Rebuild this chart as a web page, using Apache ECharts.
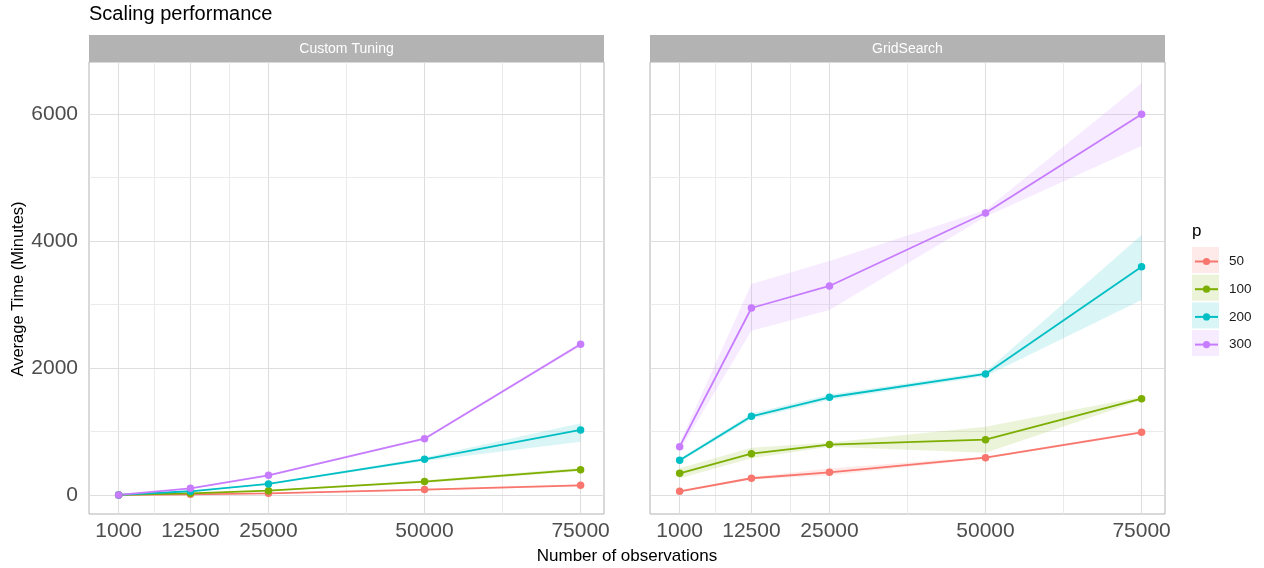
<!DOCTYPE html>
<html>
<head>
<meta charset="utf-8">
<title>Scaling performance</title>
<script src="https://cdn.jsdelivr.net/npm/echarts@6/dist/echarts.min.js"></script>
<style>
  html, body { margin: 0; padding: 0; background: #fff; }
  #chart { width: 1264px; height: 568px; }
</style>
</head>
<body>
<div id="chart"></div>
<script>
// Observation counts on the x axis
const observations = [1000, 12500, 25000, 50000, 75000];
const xMinorBreaks = [6750, 18750, 37500, 62500];
const yTicks = [0, 2000, 4000, 6000];
const yMinorBreaks = [1000, 3000, 5000];

const panels = ['Custom Tuning', 'GridSearch'];
const pLevels = ['50', '100', '200', '300'];
const pColors = ['#F8766D', '#7CAE00', '#00BFC4', '#C77CFF'];

// Custom Tuning: average time (minutes) with lower / upper band
const customMean50  = [0, 10, 26, 84, 152];
const customLow50   = [0, 5, 18, 70, 135];
const customHigh50  = [0, 15, 34, 98, 170];
const customMean100 = [0, 26, 68, 210, 399];
const customLow100  = [0, 20, 58, 190, 372];
const customHigh100 = [0, 32, 78, 230, 428];
const customMean200 = [0, 58, 173, 562, 1024];
const customLow200  = [0, 50, 160, 535, 840];
const customHigh200 = [0, 66, 186, 590, 1130];
const customMean300 = [0, 105, 310, 887, 2373];
const customLow300  = [0, 95, 295, 868, 2345];
const customHigh300 = [0, 115, 325, 906, 2400];

// GridSearch: average time (minutes) with lower / upper band
const gridMean50  = [58, 263, 357, 588, 987];
const gridLow50   = [40, 245, 310, 570, 965];
const gridHigh50  = [76, 281, 415, 606, 1009];
const gridMean100 = [341, 651, 793, 871, 1517];
const gridLow100  = [263, 578, 760, 666, 1490];
const gridHigh100 = [420, 745, 826, 1076, 1545];
const gridMean200 = [546, 1239, 1539, 1906, 3596];
const gridLow200  = [520, 1195, 1495, 1870, 3071];
const gridHigh200 = [572, 1283, 1583, 1942, 4095];
const gridMean300 = [761, 2945, 3292, 4441, 5996];
const gridLow300  = [700, 2588, 2914, 4384, 5497];
const gridHigh300 = [820, 3323, 3685, 4489, 6484];

const panelData = [
  {
    mean: [customMean50, customMean100, customMean200, customMean300],
    low:  [customLow50, customLow100, customLow200, customLow300],
    high: [customHigh50, customHigh100, customHigh200, customHigh300]
  },
  {
    mean: [gridMean50, gridMean100, gridMean200, gridMean300],
    low:  [gridLow50, gridLow100, gridLow200, gridLow300],
    high: [gridHigh50, gridHigh100, gridHigh200, gridHigh300]
  }
];

const FONT = 'Liberation Sans, Arial, sans-serif';
const BAND_ALPHA = 0.15;

function hexToRgba(hex, a) {
  const n = parseInt(hex.slice(1), 16);
  return 'rgba(' + ((n >> 16) & 255) + ',' + ((n >> 8) & 255) + ',' + (n & 255) + ',' + a + ')';
}

const gridBoxes = [
  { left: 89, top: 62, width: 515, height: 452 },
  { left: 650, top: 62, width: 515, height: 452 }
];

const series = [];

panels.forEach(function (panelName, pi) {
  // panel grid lines, placed through the axes, kept underneath the data
  const majorStyle = { color: '#dedede', width: 1.1, type: 'solid' };
  const minorStyle = { color: '#e9e9e9', width: 0.9, type: 'solid' };
  const lines = [];
  observations.forEach(v => lines.push({ xAxis: v, lineStyle: majorStyle }));
  xMinorBreaks.forEach(v => lines.push({ xAxis: v, lineStyle: minorStyle }));
  yTicks.forEach(v => lines.push({ yAxis: v, lineStyle: majorStyle }));
  yMinorBreaks.forEach(v => lines.push({ yAxis: v, lineStyle: minorStyle }));
  series.push({
    type: 'line',
    name: 'grid-' + pi,
    xAxisIndex: pi,
    yAxisIndex: pi,
    data: [[observations[0], 0]],
    showSymbol: false,
    lineStyle: { opacity: 0 },
    silent: true,
    z: 1,
    animation: false,
    markLine: {
      z: 1,
      silent: true,
      symbol: ['none', 'none'],
      label: { show: false },
      animation: false,
      data: lines
    }
  });

  const d = panelData[pi];
  pLevels.forEach(function (p, k) {
    const low = d.low[k];
    const high = d.high[k];
    // shaded band between low and high
    series.push({
      type: 'custom',
      name: 'band-' + pi + '-' + p,
      xAxisIndex: pi,
      yAxisIndex: pi,
      silent: true,
      z: 2,
      animation: false,
      data: [[observations[0], low[0]]],
      renderItem: function (params, api) {
        const pts = [];
        for (let i = 0; i < observations.length; i++) pts.push(api.coord([observations[i], high[i]]));
        for (let i = observations.length - 1; i >= 0; i--) pts.push(api.coord([observations[i], low[i]]));
        return {
          type: 'polygon',
          shape: { points: pts },
          style: { fill: hexToRgba(pColors[k], BAND_ALPHA), stroke: null }
        };
      }
    });
  });

  pLevels.forEach(function (p, k) {
    series.push({
      type: 'line',
      name: p,
      xAxisIndex: pi,
      yAxisIndex: pi,
      z: 3,
      animation: false,
      symbol: 'circle',
      symbolSize: 7.5,
      showAllSymbol: true,
      color: pColors[k],
      lineStyle: { color: pColors[k], width: 1.8 },
      itemStyle: { color: pColors[k], borderWidth: 0 },
      emphasis: { disabled: true },
      data: observations.map((x, i) => [x, d.mean[k][i]])
    });
  });
});

const xAxes = gridBoxes.map((g, i) => ({
  type: 'value',
  gridIndex: i,
  min: -3750,
  max: 78750,
  axisLine: { show: false },
  splitLine: { show: false },
  axisTick: { show: true, customValues: observations, length: 4, lineStyle: { color: '#b3b3b3', width: 1 } },
  axisLabel: {
    show: true, customValues: observations, margin: 7,
    color: '#4d4d4d', fontSize: 21, fontFamily: FONT,
    formatter: v => String(v)
  }
}));

const yAxes = gridBoxes.map((g, i) => ({
  type: 'value',
  gridIndex: i,
  min: -300,
  max: 6820,
  axisLine: { show: false },
  splitLine: { show: false },
  axisTick: i === 0
    ? { show: true, customValues: yTicks, length: 4, lineStyle: { color: '#b3b3b3', width: 1 } }
    : { show: false },
  axisLabel: i === 0
    ? { show: true, customValues: yTicks, margin: 11, padding: [3, 0, 0, 0], color: '#4d4d4d', fontSize: 21, fontFamily: FONT, formatter: v => String(v) }
    : { show: false }
}));

// strip headers, legend key backgrounds and axis titles
const graphics = [];
panels.forEach(function (name, i) {
  const g = gridBoxes[i];
  graphics.push({
    type: 'rect', left: g.left, top: 35, silent: true,
    shape: { width: g.width, height: 27 },
    style: { fill: '#b3b3b3' }
  });
  graphics.push({
    type: 'text', x: g.left + g.width / 2, y: 49, silent: true,
    style: { text: name, fill: '#ffffff', font: '14px ' + FONT, textAlign: 'center', textVerticalAlign: 'middle' }
  });
});
pLevels.forEach(function (p, k) {
  graphics.push({
    type: 'rect', left: 1192, top: 247 + k * 27.7, silent: true,
    shape: { width: 27, height: 26 },
    style: { fill: hexToRgba(pColors[k], BAND_ALPHA) }
  });
});
graphics.push({
  type: 'text', x: 1192, y: 231, silent: true,
  style: { text: 'p', fill: '#000000', font: '17px ' + FONT, textAlign: 'left', textVerticalAlign: 'middle' }
});
graphics.push({
  type: 'text', x: 18.5, y: 289, rotation: Math.PI / 2, silent: true,
  style: { text: 'Average Time (Minutes)', fill: '#000000', font: '16.5px ' + FONT, textAlign: 'center', textVerticalAlign: 'middle' }
});
graphics.push({
  type: 'text', x: 627, y: 556, silent: true,
  style: { text: 'Number of observations', fill: '#000000', font: '17px ' + FONT, textAlign: 'center', textVerticalAlign: 'middle' }
});

const chart = echarts.init(document.getElementById('chart'), null, { renderer: 'canvas' });
chart.setOption({
  backgroundColor: '#ffffff',
  animation: false,
  title: {
    text: 'Scaling performance',
    left: 89,
    top: 4,
    padding: 0,
    textStyle: { color: '#000000', fontSize: 20, fontWeight: 'normal', fontFamily: FONT }
  },
  legend: {
    data: pLevels,
    orient: 'vertical',
    left: 1194,
    top: 254.5,
    padding: 0,
    itemWidth: 23,
    itemHeight: 9,
    itemGap: 13.7,
    selectedMode: false,
    itemStyle: { borderWidth: 0 },
    lineStyle: { width: 2 },
    textStyle: { color: '#1a1a1a', fontSize: 13.5, fontFamily: FONT, lineHeight: 9, padding: [0, 0, 0, 6] }
  },
  grid: gridBoxes.map(g => ({
    left: g.left, top: g.top, width: g.width, height: g.height,
    show: true, borderColor: '#b3b3b3', borderWidth: 1, backgroundColor: '#ffffff',
    containLabel: false
  })),
  xAxis: xAxes,
  yAxis: yAxes,
  series: series,
  graphic: graphics
});
</script>
</body>
</html>
